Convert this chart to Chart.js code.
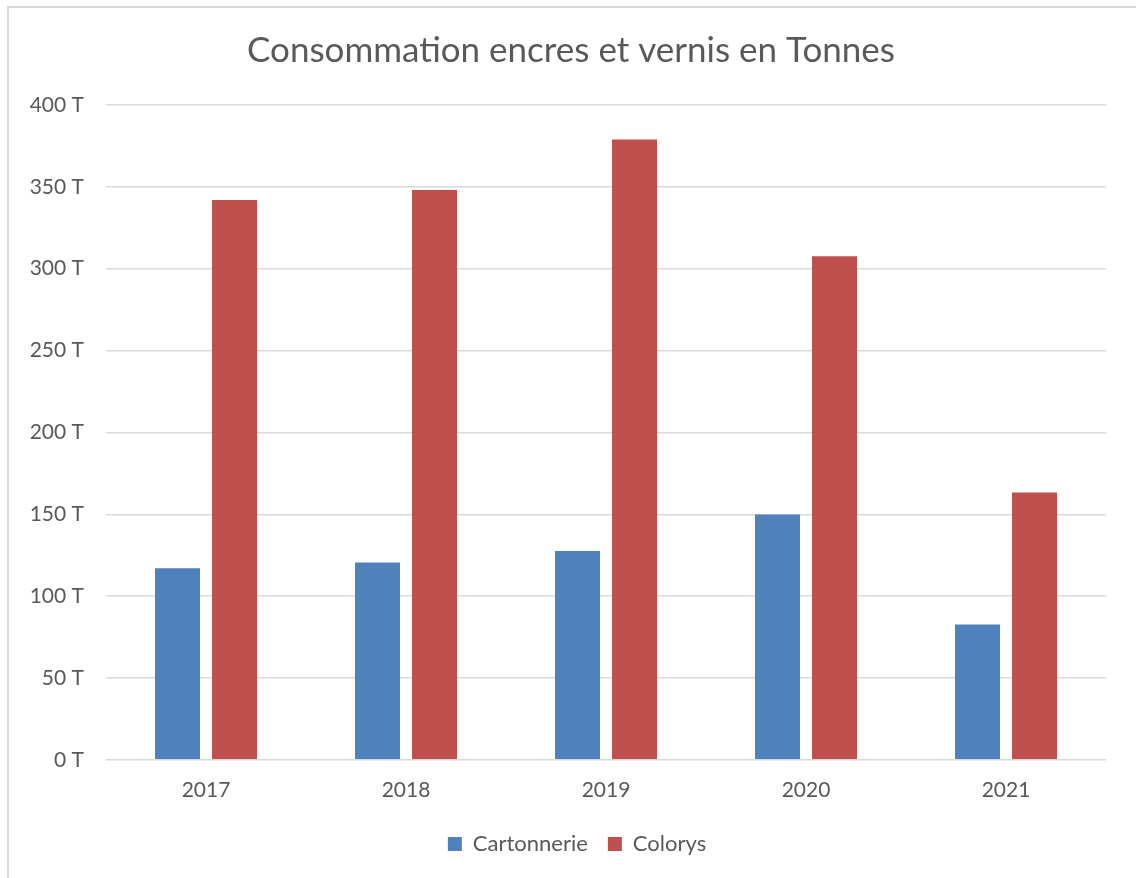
<!DOCTYPE html>
<html>
<head>
<meta charset="utf-8">
<script src="https://cdn.jsdelivr.net/npm/chart.js@4"></script>
<style>
  html, body { margin: 0; padding: 0; background: #fff; }
  #wrap { position: absolute; left: 0; top: 0; width: 1136px; height: 878px; }
  #frame { position: absolute; left: 7px; top: 6px; right: -10px; bottom: -10px; border: 2px solid #d9d9d9; }
</style>
</head>
<body>
<div id="wrap">
  <div id="frame"></div>
  <canvas id="chart" width="1136" height="878"></canvas>
</div>
<script>
const years = ["2017", "2018", "2019", "2020", "2021"];
const cartonnerie = [117, 120.5, 127.5, 149.8, 82.7];
const colorys = [341.9, 348, 379, 307.6, 163.3];
const yTicks = [0, 50, 100, 150, 200, 250, 300, 350, 400];

const textColor = "#595959";
const gridColor = "#d9d9d9";

// title and legend are centred on the whole frame, not only the plot
const shiftBoxes = {
    id: "shiftBoxes",
    afterLayout(chart) {
        chart.titleBlock.left = 36;
        chart.legend.left = 48;
    }
};

document.addEventListener("DOMContentLoaded", function () {
    const ctx = document.getElementById("chart").getContext("2d");
    new Chart(ctx, {
        type: "bar",
        data: {
            labels: years,
            datasets: [
                { label: "Cartonnerie", data: cartonnerie, backgroundColor: "#4f81bd" },
                { label: "Colorys", data: colorys, backgroundColor: "#c0504d" }
            ]
        },
        options: {
            responsive: false,
            animation: false,
            categoryPercentage: 0.57,
            barPercentage: 0.79,
            layout: { padding: { left: 0, right: 30, top: 16, bottom: 13 } },
            scales: {
                x: {
                    grid: { display: false },
                    border: { display: false },
                    ticks: { color: textColor, font: { family: "Lato", size: 21 }, padding: 10 }
                },
                y: {
                    min: 0,
                    max: 400,
                    afterBuildTicks: axis => { axis.ticks = yTicks.map(v => ({ value: v })); },
                    afterFit: axis => { axis.width = 106; },
                    grid: { color: gridColor, lineWidth: 1.5, drawTicks: false },
                    border: { display: false },
                    ticks: {
                        color: textColor,
                        font: { family: "Lato", size: 21 },
                        padding: 22,
                        callback: v => v + " T"
                    }
                }
            },
            plugins: {
                title: {
                    display: true,
                    text: "Consommation encres et vernis en Tonnes",
                    color: textColor,
                    font: { family: "Lato", size: 35, weight: "normal" },
                    padding: { top: 14, bottom: 33 }
                },
                legend: {
                    position: "bottom",
                    labels: {
                        color: textColor,
                        font: { family: "Lato", size: 22 },
                        boxWidth: 14,
                        boxHeight: 14,
                        padding: 20
                    }
                },
                tooltip: { enabled: false }
            }
        },
        plugins: [shiftBoxes]
    });
});
</script>
</body>
</html>
